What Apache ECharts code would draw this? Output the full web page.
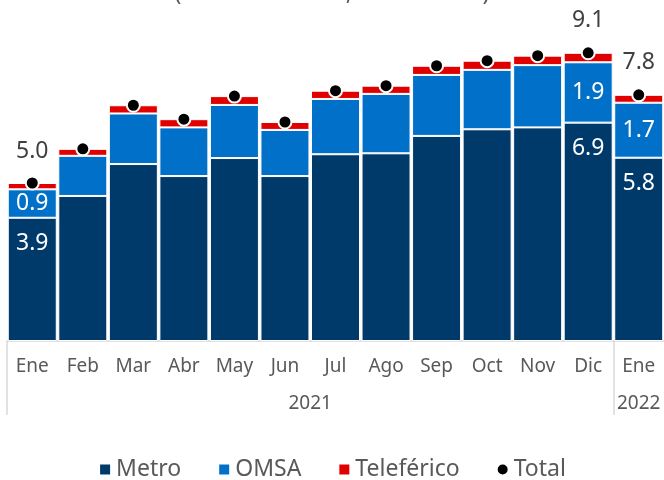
<!DOCTYPE html>
<html>
<head>
<meta charset="utf-8">
<script src="https://cdn.jsdelivr.net/npm/echarts@6/dist/echarts.min.js"></script>
<style>
  html, body { margin: 0; padding: 0; background: #fff; }
  #chart { width: 664px; height: 480px; }
</style>
</head>
<body>
<div id="chart"></div>
<script>
// datos (millones de pasajeros)
const months = ['Ene', 'Feb', 'Mar', 'Abr', 'May', 'Jun', 'Jul', 'Ago', 'Sep', 'Oct', 'Nov', 'Dic', 'Ene'];
const years = ['2021', '2022'];
const metro = [3.9, 4.59, 5.6, 5.22, 5.79, 5.22, 5.91, 5.94, 6.49, 6.7, 6.76, 6.91, 5.8];
const omsa = [0.9, 1.27, 1.6, 1.54, 1.68, 1.46, 1.75, 1.88, 1.93, 1.88, 1.97, 1.91, 1.74];
const teleferico = [0.2, 0.22, 0.26, 0.26, 0.28, 0.25, 0.26, 0.26, 0.29, 0.29, 0.3, 0.3, 0.25];
const total = [5.0, 6.08, 7.46, 7.02, 7.75, 6.93, 7.92, 8.08, 8.71, 8.87, 9.03, 9.12, 7.79];
const labeled = [0, 11, 12];   // meses con etiquetas

const FONT = 'Noto Sans';
const GREY = '#595959';

function withLabels (values, label) {
    return values.map((v, i) => labeled.includes(i) ? { value: v, label: label } : v);
}

const fmt = p => p.value.toFixed(1);

const option = {
    animation: false,
    textStyle: { fontFamily: FONT },
    title: {
        text: '(ene 21 - ene 22, en millones)',
        left: 'center',
        top: -23,
        textStyle: { fontSize: 23, fontWeight: 'normal', color: GREY, fontFamily: FONT }
    },
    legend: {
        bottom: -6,
        left: 'center',
        itemWidth: 12,
        itemHeight: 12,
        itemGap: 36,
        textStyle: { fontSize: 23, color: GREY, fontFamily: FONT },
        data: [
            { name: 'Metro', icon: 'rect' },
            { name: 'OMSA', icon: 'rect' },
            { name: 'Teleférico', icon: 'rect' },
            { name: 'Total', icon: 'circle' }
        ]
    },
    grid: { left: 7, top: 25, width: 658, height: 316 },
    xAxis: [
        {
            type: 'category',
            data: months,
            axisLine: { lineStyle: { color: '#d9d9d9', width: 1.5 } },
            axisTick: { show: false },
            axisLabel: { interval: 0, fontSize: 19, color: GREY, margin: 16, fontFamily: FONT }
        },
        {
            type: 'value',
            min: 0,
            max: 13,
            position: 'bottom',
            axisLine: { show: false },
            splitLine: { show: false },
            axisTick: {
                show: true,
                customValues: [0, 12],
                length: 74,
                lineStyle: { color: '#d9d9d9', width: 1.5 }
            },
            axisLabel: {
                customValues: [6, 12.5],
                formatter: v => v < 12 ? years[0] : years[1],
                fontSize: 19,
                color: GREY,
                margin: 53,
                fontFamily: FONT
            }
        }
    ],
    yAxis: { type: 'value', min: 0, max: 10, show: false },
    series: [
        {
            name: 'Metro',
            type: 'bar',
            stack: 'pax',
            barWidth: 49,
            itemStyle: { color: '#003a6b', borderColor: '#fff', borderWidth: 1 },
            data: withLabels(metro, {
                show: true, position: 'insideTop', distance: 14,
                color: '#fff', fontSize: 23, fontFamily: FONT, formatter: fmt
            })
        },
        {
            name: 'OMSA',
            type: 'bar',
            stack: 'pax',
            itemStyle: { color: '#0070c8', borderColor: '#fff', borderWidth: 1 },
            data: withLabels(omsa, {
                show: true, position: 'inside',
                color: '#fff', fontSize: 23, fontFamily: FONT, formatter: fmt
            })
        },
        {
            name: 'Teleférico',
            type: 'bar',
            stack: 'pax',
            itemStyle: { color: '#e00000', borderColor: '#fff', borderWidth: 1 },
            data: teleferico
        },
        {
            name: 'Total',
            type: 'scatter',
            symbol: 'circle',
            symbolSize: 13,
            z: 5,
            itemStyle: { color: '#000', opacity: 1, borderColor: '#fff', borderWidth: 2 },
            data: withLabels(total, {
                show: true, position: 'top', distance: 13,
                color: '#404040', fontSize: 23, fontFamily: FONT, formatter: fmt
            })
        }
    ]
};

const myChart = echarts.init(document.getElementById('chart'));
myChart.setOption(option);
</script>
</body>
</html>
